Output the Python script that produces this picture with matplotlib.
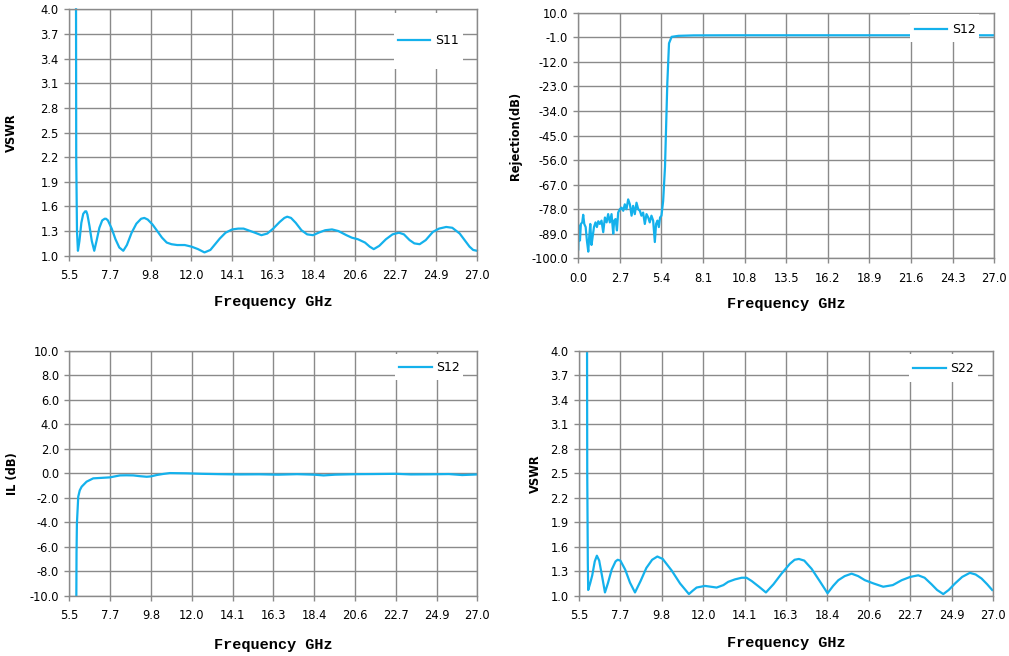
import matplotlib
matplotlib.use('Agg')
import matplotlib.pyplot as plt
from matplotlib.patches import Rectangle

# ---- data ----
# S11 VSWR (top left)
s11_f = [5.87, 5.88, 5.92, 5.97, 6.05, 6.15, 6.25, 6.35, 6.41, 6.47, 6.58, 6.70, 6.83,
         6.95, 7.10, 7.25, 7.38, 7.45, 7.55, 7.75, 7.95, 8.15, 8.36, 8.55, 8.80, 9.05,
         9.30, 9.47, 9.65, 9.90, 10.12, 10.40, 10.65, 10.90, 11.20, 11.60, 11.96, 12.30,
         12.64, 12.95, 13.20, 13.45, 13.75, 14.10, 14.42, 14.70, 14.94, 15.30, 15.64,
         15.95, 16.26, 16.60, 16.85, 17.00, 17.20, 17.45, 17.75, 18.05, 18.36, 18.65,
         19.00, 19.36, 19.70, 20.12, 20.40, 20.73, 21.10, 21.35, 21.56, 21.85, 22.20,
         22.55, 22.89, 23.15, 23.45, 23.70, 23.98, 24.30, 24.68, 25.00, 25.38, 25.70,
         26.09, 26.35, 26.61, 26.80, 27.00]
s11_v = [4.00, 2.20, 1.30, 1.06, 1.18, 1.40, 1.51, 1.54, 1.54, 1.50, 1.36, 1.18, 1.06,
         1.18, 1.34, 1.43, 1.45, 1.45, 1.43, 1.33, 1.20, 1.10, 1.06, 1.13, 1.28, 1.39,
         1.45, 1.46, 1.44, 1.38, 1.31, 1.22, 1.16, 1.14, 1.13, 1.13, 1.11, 1.08,
         1.04, 1.07, 1.14, 1.21, 1.28, 1.32, 1.33, 1.33, 1.31, 1.28, 1.25,
         1.27, 1.33, 1.41, 1.46, 1.475, 1.46, 1.40, 1.31, 1.26, 1.25, 1.28,
         1.31, 1.32, 1.30, 1.25, 1.22, 1.20, 1.16, 1.11, 1.08, 1.12, 1.20,
         1.26, 1.28, 1.26, 1.19, 1.15, 1.14, 1.19, 1.29, 1.33, 1.35, 1.34,
         1.27, 1.19, 1.11, 1.07, 1.06]

# S12 rejection (top right)
rej_f = [0.00, 0.04, 0.11, 0.17, 0.26, 0.32, 0.39, 0.48, 0.56, 0.65, 0.71, 0.78, 0.86,
         0.93, 1.02, 1.12, 1.21, 1.30, 1.40, 1.51, 1.62, 1.73, 1.84, 1.94, 2.05, 2.16,
         2.27, 2.33, 2.42, 2.51, 2.59, 2.70, 2.81, 2.92, 3.02, 3.13, 3.24, 3.35, 3.46,
         3.56, 3.67, 3.78, 3.89, 4.00, 4.10, 4.21, 4.32, 4.43, 4.54, 4.64, 4.75, 4.86,
         4.97, 5.05, 5.14, 5.23, 5.31, 5.40, 5.51, 5.63, 5.78, 5.89, 6.06, 6.50, 7.50,
         10.0, 15.0, 20.0, 27.0]
rej_v = [-96.0, -85.3, -92.0, -84.6, -83.9, -80.5, -84.6, -86.0, -92.0, -97.0, -90.5,
         -84.6, -94.0, -90.5, -86.0, -83.9, -86.0, -83.4, -84.6, -83.1, -88.3, -81.7,
         -83.9, -80.2, -83.9, -80.2, -89.0, -83.1, -82.4, -87.5, -79.5, -78.0, -77.3,
         -78.7, -75.8, -78.0, -73.6, -75.8, -80.9, -76.5, -80.2, -75.1, -78.0, -78.7,
         -80.9, -79.5, -84.6, -80.2, -81.7, -83.9, -80.9, -83.1, -92.7, -84.6, -83.1,
         -86.0, -81.7, -80.9, -74.3, -59.0, -21.6, -3.7, -0.8, -0.35, -0.15,
         -0.1, -0.1, -0.1, -0.1]

# S12 insertion loss (bottom left)
il_f = [5.87, 5.88, 5.90, 5.97, 6.05, 6.15, 6.41, 6.76, 7.20, 7.64, 7.90, 8.17, 8.50,
        8.87, 9.20, 9.58, 9.80, 10.10, 10.45, 10.80, 11.20, 11.68, 12.50, 13.50, 14.50,
        15.50, 16.50, 17.50, 18.40, 18.90, 19.50, 20.60, 21.50, 22.70, 23.50, 24.50,
        25.50, 26.20, 27.00]
il_v = [-10.0, -6.5, -4.1, -1.92, -1.40, -1.10, -0.69, -0.42, -0.38, -0.34, -0.26,
        -0.18, -0.17, -0.18, -0.24, -0.29, -0.26, -0.15, -0.06, 0.01, 0.00, -0.01,
        -0.05, -0.08, -0.10, -0.09, -0.12, -0.08, -0.12, -0.18, -0.12, -0.08, -0.07,
        -0.05, -0.10, -0.09, -0.07, -0.15, -0.10]

# S22 VSWR (bottom right)
s22_f = [5.92, 5.93, 5.96, 5.98, 6.08, 6.19, 6.32, 6.43, 6.55, 6.70, 6.85, 7.00, 7.20,
         7.40, 7.51, 7.65, 7.90, 8.15, 8.41, 8.70, 9.00, 9.30, 9.57, 9.85, 10.31, 10.75,
         11.21, 11.40, 11.61, 12.04, 12.35, 12.65, 13.00, 13.25, 13.60, 13.95, 14.20,
         14.47, 14.85, 15.21, 15.60, 16.02, 16.45, 16.70, 16.92, 17.20, 17.58, 18.00,
         18.41, 18.70, 18.97, 19.30, 19.66, 20.00, 20.35, 20.80, 21.30, 21.80, 22.26,
         22.70, 23.12, 23.45, 23.81, 24.10, 24.42, 24.70, 25.03, 25.40, 25.80, 26.10,
         26.41, 26.70, 26.96]
s22_v = [4.00, 2.50, 1.40, 1.07, 1.15, 1.25, 1.42, 1.49, 1.43, 1.24, 1.04, 1.15, 1.32,
         1.42, 1.44, 1.43, 1.32, 1.16, 1.04, 1.18, 1.34, 1.44, 1.48, 1.45, 1.31, 1.15,
         1.02, 1.06, 1.10, 1.12, 1.11, 1.10, 1.13, 1.17, 1.20, 1.22, 1.22,
         1.18, 1.11, 1.04, 1.14, 1.27, 1.39, 1.44, 1.45, 1.43, 1.33, 1.18,
         1.03, 1.12, 1.19, 1.24, 1.27, 1.24, 1.19, 1.15, 1.11, 1.13, 1.19,
         1.23, 1.25, 1.22, 1.14, 1.07, 1.02, 1.07, 1.15, 1.23, 1.28, 1.26,
         1.21, 1.14, 1.07]

# tick labels
f_ticks = [5.5, 7.65, 9.8, 11.95, 14.1, 16.25, 18.4, 20.55, 22.7, 24.85, 27.0]
f_labels = ['5.5', '7.7', '9.8', '12.0', '14.1', '16.3', '18.4', '20.6', '22.7', '24.9', '27.0']
rej_xticks = [0.0, 2.7, 5.4, 8.1, 10.8, 13.5, 16.2, 18.9, 21.6, 24.3, 27.0]
rej_yticks = [10, -1, -12, -23, -34, -45, -56, -67, -78, -89, -100]
vswr_ticks = [1.0, 1.3, 1.6, 1.9, 2.2, 2.5, 2.8, 3.1, 3.4, 3.7, 4.0]
il_ticks = [-10, -8, -6, -4, -2, 0, 2, 4, 6, 8, 10]

blue = '#14b1ec'
gray = '#8a8a8a'

fig = plt.figure(figsize=(10.09, 6.56), dpi=100)
fig.patch.set_facecolor('white')

ax1 = fig.add_axes([0.0684, 0.6102, 0.4043, 0.3756])
ax2 = fig.add_axes([0.5731, 0.6062, 0.4123, 0.3744])
ax3 = fig.add_axes([0.0687, 0.0919, 0.4044, 0.3735])
ax4 = fig.add_axes([0.5738, 0.0919, 0.4103, 0.3735])


def style(ax, xt, xl, yt, ylim, xlim, ylabel, ylx, xly, leg, fmt='%.1f'):
    ax.set_xlim(xlim)
    ax.set_ylim(ylim)
    ax.set_xticks(xt)
    ax.set_xticklabels(xl)
    ax.set_yticks(yt)
    ax.set_yticklabels([fmt % v for v in yt])
    ax.grid(True, color=gray, linewidth=1.0)
    ax.set_axisbelow(True)
    for s in ax.spines.values():
        s.set_color(gray)
        s.set_linewidth(1.0)
    ax.tick_params(direction='out', length=3.5, width=1.0, color=gray,
                   labelsize=8.3, labelcolor='black')
    ax.tick_params(axis='x', pad=6)
    ax.tick_params(axis='y', pad=4)
    ax.set_ylabel(ylabel, fontsize=8.3, fontweight='bold', va='center')
    ax.yaxis.set_label_coords(ylx, 0.5)
    ax.set_xlabel('Frequency GHz', family='Liberation Mono', fontsize=11,
                  fontweight='bold', va='center')
    ax.xaxis.set_label_coords(0.5, xly)
    rx0, rx1, ry0, ry1, lx, ly = leg
    ax.add_patch(Rectangle((rx0, ry0), rx1 - rx0, ry1 - ry0, transform=ax.transAxes,
                           facecolor='white', edgecolor='none', zorder=5, clip_on=False))
    lg = ax.legend(loc='center left', bbox_to_anchor=(lx, ly), frameon=False,
                   fontsize=9, handlelength=2.6, handletextpad=0.35,
                   borderpad=0, borderaxespad=0)
    lg.set_zorder(6)


ax1.plot(s11_f, s11_v, color=blue, linewidth=1.6, label='S11', clip_on=False)
style(ax1, f_ticks, f_labels, vswr_ticks, (1.0, 4.0), (5.5, 27.0), 'VSWR',
      -0.142, -0.188, (0.797, 0.966, 0.758, 0.985, 0.806, 0.873))

ax2.plot(rej_f, rej_v, color=blue, linewidth=1.6, label='S12')
style(ax2, rej_xticks, ['%.1f' % v for v in rej_xticks], rej_yticks, (-100, 10),
      (0, 27), 'Rejection(dB)', -0.152, -0.186,
      (0.797, 0.964, 0.881, 0.995, 0.809, 0.93))

ax3.plot(il_f, il_v, color=blue, linewidth=1.6, label='S12')
style(ax3, f_ticks, f_labels, il_ticks, (-10, 10), (5.5, 27.0), 'IL (dB)',
      -0.14, -0.201, (0.798, 0.965, 0.881, 0.987, 0.808, 0.931))

ax4.plot(s22_f, s22_v, color=blue, linewidth=1.6, label='S22')
style(ax4, f_ticks, f_labels, vswr_ticks, (1.0, 4.0), (5.5, 27.0), 'VSWR',
      -0.106, -0.193, (0.797, 0.964, 0.873, 0.987, 0.807, 0.927))

fig.savefig('out.png', dpi=100, facecolor='white')
